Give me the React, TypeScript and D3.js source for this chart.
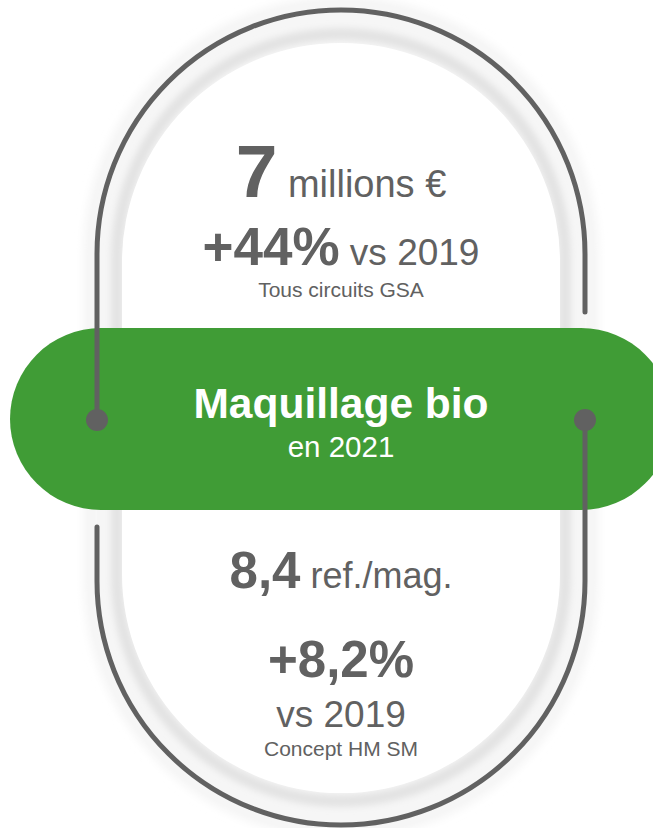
import React, { useEffect, useRef } from 'react';
import * as d3 from 'd3';

// text content of the infographic
const topLines = [
  { parts: [{ t: '7', size: 75, bold: true }, { t: ' millions €', size: 38, bold: false }], y: 197 },
  { parts: [{ t: '+44%', size: 53, bold: true }, { t: ' vs 2019', size: 37, bold: false }], y: 265 },
  { parts: [{ t: 'Tous circuits GSA', size: 21, bold: false }], y: 297 },
];
const centerLines = [
  { parts: [{ t: 'Maquillage bio', size: 42.5, bold: true }], y: 418 },
  { parts: [{ t: 'en 2021', size: 29.5, bold: false }], y: 457 },
];
const bottomLines = [
  { parts: [{ t: '8,4', size: 51, bold: true }, { t: ' ref./mag.', size: 36, bold: false }], y: 588 },
  { parts: [{ t: '+8,2%', size: 51, bold: true }], y: 677 },
  { parts: [{ t: 'vs 2019', size: 37, bold: false }], y: 727 },
  { parts: [{ t: 'Concept HM SM', size: 21, bold: false }], y: 756 },
];

const W = 653;
const H = 828;
const cx = 341;
const R = 244;
const topCy = 254;
const botCy = 581;
const grey = '#616161';
const green = '#409c36';

const stadium = (r: number, t = topCy, b = botCy) => {
  const p = d3.path();
  p.moveTo(cx + r, t);
  p.arc(cx, t, r, 0, -Math.PI, true);
  p.lineTo(cx - r, b);
  p.arc(cx, b, r, Math.PI, 0, true);
  p.closePath();
  return p.toString();
};

const App: React.FC = () => {
  const ref = useRef<SVGSVGElement>(null);

  useEffect(() => {
    const svg = d3.select(ref.current);
    svg.selectAll('*').remove();

    const defs = svg.append('defs');
    const blur = (id: string, sd: number) => defs.append('filter').attr('id', id)
      .attr('x', '-20%').attr('y', '-20%').attr('width', '140%').attr('height', '140%')
      .append('feGaussianBlur').attr('stdDeviation', sd);
    blur('soft', 5);
    blur('soft2', 3);

    // faint shadow outside the dark outline
    svg.append('path').attr('d', stadium(R + 6)).attr('fill', 'none')
      .attr('stroke', '#f4f4f4').attr('stroke-width', 14).attr('filter', 'url(#soft)');
    // light band between outline and white core
    svg.append('path').attr('d', stadium(R)).attr('fill', '#f6f6f6');
    svg.append('path').attr('d', stadium(224, 258, 577)).attr('fill', 'none')
      .attr('stroke', '#e3e3e3').attr('stroke-width', 12).attr('filter', 'url(#soft2)');
    svg.append('path').attr('d', stadium(219, 262, 574)).attr('fill', '#ffffff');

    // green band
    svg.append('rect').attr('x', 10).attr('y', 328).attr('width', 662).attr('height', 182)
      .attr('rx', 91).attr('ry', 91).attr('fill', green);

    // dark outline, split in two strokes
    const a = d3.path();
    a.moveTo(cx + R, 312);
    a.lineTo(cx + R, topCy);
    a.arc(cx, topCy, R, 0, -Math.PI, true);
    a.lineTo(cx - R, 420);
    const b = d3.path();
    b.moveTo(cx - R, 527);
    b.lineTo(cx - R, botCy);
    b.arc(cx, botCy, R, Math.PI, 0, true);
    b.lineTo(cx + R, 420);
    [a, b].forEach((p) => {
      svg.append('path').attr('d', p.toString()).attr('fill', 'none')
        .attr('stroke', grey).attr('stroke-width', 5).attr('stroke-linecap', 'round');
    });
    [cx - R, cx + R].forEach((x) => {
      svg.append('circle').attr('cx', x).attr('cy', 420).attr('r', 11).attr('fill', grey);
    });

    const drawLines = (lines: typeof topLines, fill: string) => {
      lines.forEach((line) => {
        const text = svg.append('text').attr('x', cx).attr('y', line.y)
          .attr('text-anchor', 'middle').attr('fill', fill)
          .style('font-family', '"Liberation Sans", Arial, sans-serif')
          .style('white-space', 'pre');
        line.parts.forEach((part) => {
          text.append('tspan').text(part.t)
            .attr('font-size', part.size)
            .attr('font-weight', part.bold ? 'bold' : 'normal');
        });
      });
    };
    drawLines(topLines, grey);
    drawLines(centerLines, '#ffffff');
    drawLines(bottomLines, grey);
  }, []);

  return (
    <svg ref={ref} width={W} height={H}
      style={{ position: 'absolute', left: 0, top: 0, display: 'block', background: '#fff' }} />
  );
};

export default App;
